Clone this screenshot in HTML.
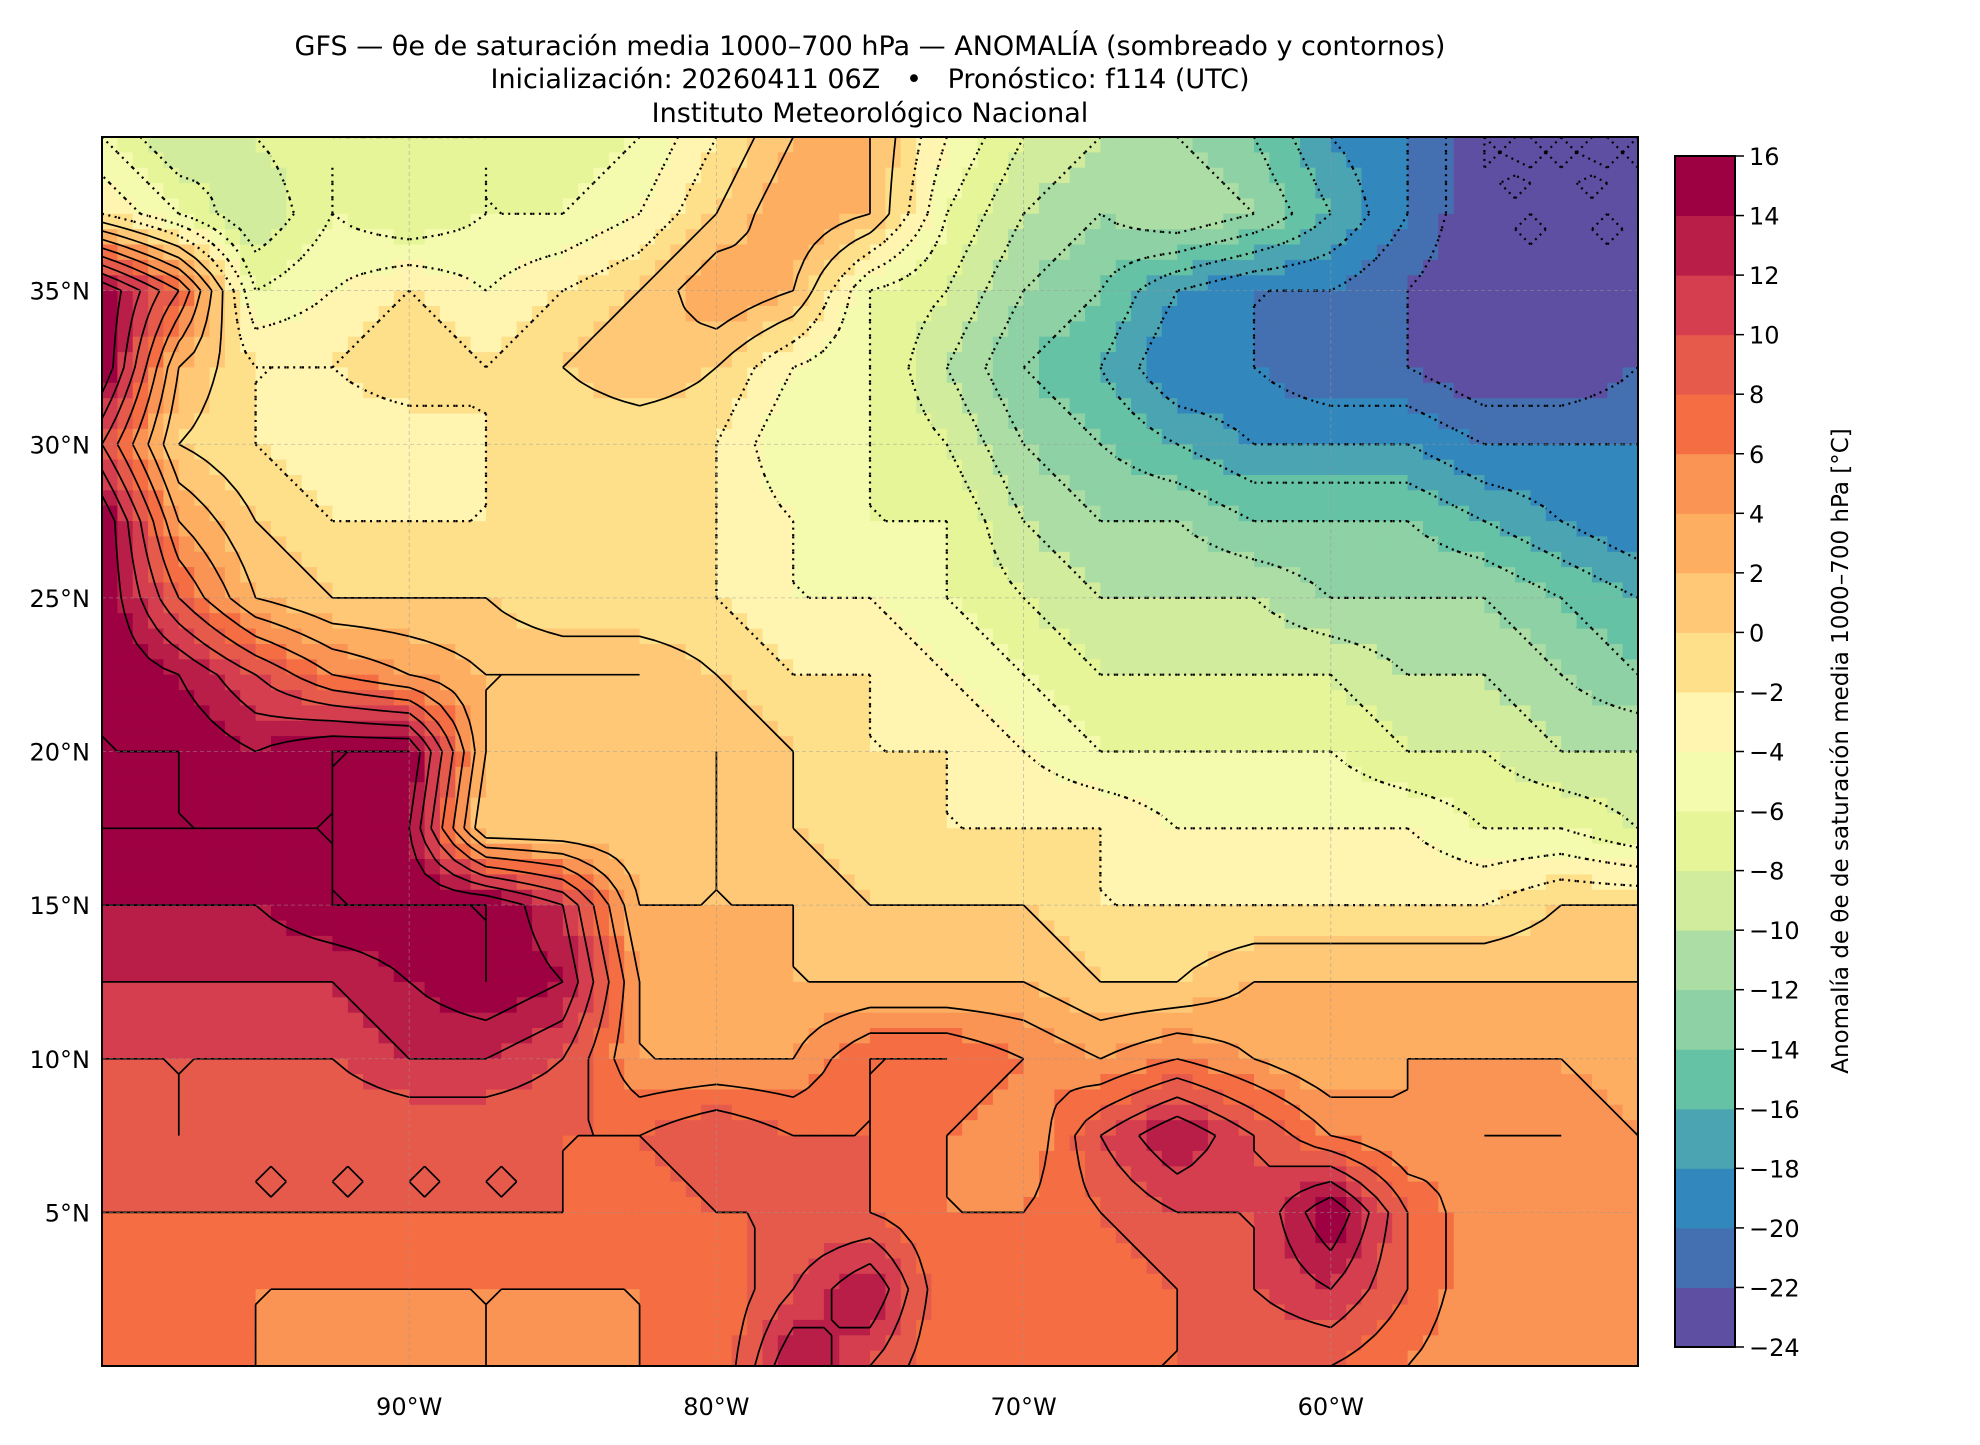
<!DOCTYPE html>
<html><head><meta charset="utf-8">
<style>
body{margin:0;background:#fff;width:1980px;height:1440px;overflow:hidden;font-family:"Liberation Sans","DejaVu Sans",sans-serif;}
svg text{font-family:"DejaVu Sans","Liberation Sans",sans-serif;}
</style></head>
<body>
<svg id="chart" width="1980" height="1440" viewBox="0 0 1980 1440" xmlns="http://www.w3.org/2000/svg">
<g font-size="27" text-anchor="middle" fill="#000">
<text x="870" y="55">GFS — θe de saturación media 1000–700 hPa — ANOMALÍA (sombreado y contornos)</text>
<text x="870" y="88">Inicialización: 20260411 06Z &#160;&#160;•&#160;&#160; Pronóstico: f114 (UTC)</text>
<text x="870" y="122">Instituto Meteorológico Nacional</text>
</g>
<defs><clipPath id="mapclip"><rect x="102" y="137" width="1536" height="1229"/></clipPath></defs>
<g id="field" clip-path="url(#mapclip)"></g>
<g id="contours" clip-path="url(#mapclip)"></g>
<g id="grid"></g>
<rect x="102" y="137" width="1536" height="1229" fill="none" stroke="#000" stroke-width="2"/>
<g id="axes" font-size="24"></g>
<g id="cbar"></g>
<text x="1848" y="751" font-size="23" text-anchor="middle" transform="rotate(-90 1848 751)">Anomalía de θe de saturación media 1000–700 hPa [°C]</text>
</svg>
<script>
// grid longitudes -100..-50 step 2.5, latitudes 40..0 step 2.5
const lons = [-100,-97.5,-95,-92.5,-90,-87.5,-85,-82.5,-80,-77.5,-75,-72.5,-70,-67.5,-65,-62.5,-60,-57.5,-55,-52.5,-50];
const lats = [40,37.5,35,32.5,30,27.5,25,22.5,20,17.5,15,12.5,10,7.5,5,2.5,0];
const r40  = [-6,-10,-8,-6,-6,-6,-8,-6,-2,2,2,-4,-8,-10,-12,-14,-18,-20,-24,-24,-24];
const r375 = [-2,-6,-10,-6,-8,-6,-6,-4,0,4,2,-6,-10,-12,-10,-12,-16,-20,-24,-24,-24];
const r35  = [16,8,-6,-4,-2,-4,-2,0,4,2,-6,-8,-12,-14,-18,-20,-20,-22,-24,-24,-24];
const r325 = [16,2,-2,-2,0,-2,0,2,0,-4,-6,-10,-14,-16,-20,-20,-22,-22,-24,-24,-22];
const r30  = [10,0,-2,-4,-4,-2,-2,-2,-2,-6,-6,-8,-12,-14,-16,-18,-18,-18,-20,-20,-20];
const r275 = [16,4,0,-2,-2,-2,-2,-2,-2,-4,-6,-6,-10,-12,-12,-14,-14,-14,-16,-18,-20];
const r25  = [16,8,2,0,0,0,-2,-2,-2,-4,-4,-6,-8,-10,-10,-10,-12,-12,-12,-14,-16];
const r225 = [16,14,10,6,4,2,2,2,0,-2,-2,-4,-6,-8,-8,-8,-8,-10,-10,-12,-14];
const r20  = [16,16,14,16,16,2,0,0,2,0,-2,-2,-4,-6,-6,-6,-6,-8,-8,-10,-10];
const r175 = [16,16,16,16,14,0,0,0,2,0,-2,-2,-2,-2,-4,-4,-4,-4,-6,-6,-8];
const r15  = [14,14,14,16,16,16,12,2,2,2,0,0,0,-2,-2,-2,-2,-2,-2,0,0];
const r125 = [12,12,12,12,14,16,14,4,2,2,2,2,2,0,0,2,2,2,2,2,2];
const r10  = [10,10,10,10,12,12,10,4,4,4,8,8,6,4,6,4,2,4,4,4,2];
const r75  = [8,10,8,8,8,8,8,8,10,8,8,6,4,10,14,10,6,4,6,6,4];
const r5   = [8,8,8,8,8,8,8,6,8,8,8,6,6,8,10,10,16,8,4,4,4];
const r25s = [6,6,6,6,6,6,6,6,6,10,14,6,6,6,8,10,12,8,4,4,6];
const r0   = [6,6,6,4,4,6,4,6,6,14,10,6,8,8,8,8,8,6,4,4,6];
const rows = [r40,r375,r35,r325,r30,r275,r25,r225,r20,r175,r15,r125,r10,r75,r5,r25s,r0];
const levels = [-24,-22,-20,-18,-16,-14,-12,-10,-8,-6,-4,-2,0,2,4,6,8,10,12,14,16];
const cbTicks = [16,14,12,10,8,6,4,2,0,-2,-4,-6,-8,-10,-12,-14,-16,-18,-20,-22,-24];
const lonTicks = [-90,-80,-70,-60];
const latTicks = [35,30,25,20,15,10,5];
const colors = ["#5e4fa2","#4470b1","#3288bd","#4ba4b1","#66c2a5","#8dd1a4","#abdda4","#d0ec9c","#e6f598","#f4faae","#fff5b0","#fee08b","#fec877","#fdae61","#f99455","#f46d43","#e65a4b","#d53e4f","#b91e48","#9e0142"];

const NS="http://www.w3.org/2000/svg";
const X0=102,X1=1638,Y0=137,Y1=1366;
const xs = lon => X0+(lon+100)/50*(X1-X0);
const ys = lat => Y0+(40-lat)/40*(Y1-Y0);
function val(lon,lat){
  let fi=(lon+100)/2.5, fj=(40-lat)/2.5;
  fi=Math.max(0,Math.min(20,fi)); fj=Math.max(0,Math.min(16,fj));
  const i=Math.min(19,Math.floor(fi)), j=Math.min(15,Math.floor(fj));
  const a=fi-i,b=fj-j;
  return rows[j][i]*(1-a)*(1-b)+rows[j][i+1]*a*(1-b)+rows[j+1][i]*(1-a)*b+rows[j+1][i+1]*a*b;
}
function colorOf(v){
  let k=Math.floor((v+24)/2); k=Math.max(0,Math.min(19,k)); return colors[k];
}
const field=document.getElementById('field');
const step=0.5;
const nx=Math.round(50/step), ny=Math.round(40/step);
for(let j=0;j<ny;j++){
  for(let i=0;i<nx;i++){
    const lon=-100+(i+0.5)*step, lat=40-(j+0.5)*step;
    const r=document.createElementNS(NS,'rect');
    const x=xs(lon-step/2), y=ys(lat+step/2);
    r.setAttribute('x',x.toFixed(1)); r.setAttribute('y',y.toFixed(1));
    r.setAttribute('width',(xs(lon+step/2)-x+0.6).toFixed(1));
    r.setAttribute('height',(ys(lat-step/2)-y+0.6).toFixed(1));
    r.setAttribute('fill',colorOf(val(lon,lat)));
    
    
    field.appendChild(r);
  }
}
// marching squares contours
const cg=document.getElementById('contours');
const N=[];
for(let j=0;j<=ny;j++){N.push([]);for(let i=0;i<=nx;i++){N[j].push(val(-100+i*step,40-j*step));}}
levels.forEach(L=>{
  let d='';
  for(let j=0;j<ny;j++)for(let i=0;i<nx;i++){
    const v=[N[j][i],N[j][i+1],N[j+1][i+1],N[j+1][i]];
    const p=[[i,j],[i+1,j],[i+1,j+1],[i,j+1]];
    const pts=[];
    for(let e=0;e<4;e++){
      const a=v[e],b=v[(e+1)%4];
      if((a<L)!==(b<L)){
        const t=(L-a)/(b-a);
        const px=p[e][0]+(p[(e+1)%4][0]-p[e][0])*t, py=p[e][1]+(p[(e+1)%4][1]-p[e][1])*t;
        pts.push([xs(-100+px*step),ys(40-py*step)]);
      }
    }
    for(let k=0;k+1<pts.length;k+=2)d+=`M${pts[k][0].toFixed(1)} ${pts[k][1].toFixed(1)}L${pts[k+1][0].toFixed(1)} ${pts[k+1][1].toFixed(1)}`;
  }
  if(d){
    const path=document.createElementNS(NS,'path');
    path.setAttribute('d',d);path.setAttribute('fill','none');path.setAttribute('stroke','#000');
    path.setAttribute('stroke-width',L<0?'2.2':'1.7');
    if(L<0)path.setAttribute('stroke-dasharray','2 4.5');
    
    
    cg.appendChild(path);
  }
});
// gridlines and tick labels
const grid=document.getElementById('grid'), axes=document.getElementById('axes');
lonTicks.forEach(lo=>{
  const l=document.createElementNS(NS,'line');
  l.setAttribute('x1',xs(lo));l.setAttribute('x2',xs(lo));l.setAttribute('y1',Y0);l.setAttribute('y2',Y1);
  l.setAttribute('stroke','#999');l.setAttribute('stroke-width','0.8');l.setAttribute('stroke-dasharray','4 3');l.setAttribute('opacity','0.6');
  
  
  grid.appendChild(l);
  const t=document.createElementNS(NS,'text');
  t.setAttribute('x',xs(lo));t.setAttribute('y',1415);t.setAttribute('text-anchor','middle');
  t.textContent=Math.abs(lo)+'°W';
  
  
  axes.appendChild(t);
});
latTicks.forEach(la=>{
  const l=document.createElementNS(NS,'line');
  l.setAttribute('y1',ys(la));l.setAttribute('y2',ys(la));l.setAttribute('x1',X0);l.setAttribute('x2',X1);
  l.setAttribute('stroke','#999');l.setAttribute('stroke-width','0.8');l.setAttribute('stroke-dasharray','4 3');l.setAttribute('opacity','0.6');
  
  
  grid.appendChild(l);
  const t=document.createElementNS(NS,'text');
  t.setAttribute('x',90);t.setAttribute('y',ys(la)+9);t.setAttribute('text-anchor','end');
  t.textContent=la+'°N';
  
  
  axes.appendChild(t);
});
// colorbar
const cb=document.getElementById('cbar');
const CX=1675,CW=60,CT=156,CB=1347;
const cy=v=>CT+(16-v)/40*(CB-CT);
for(let k=0;k<20;k++){
  const lo=levels[k],hi=levels[k+1];
  const r=document.createElementNS(NS,'rect');
  r.setAttribute('x',CX);r.setAttribute('y',cy(hi));r.setAttribute('width',CW);r.setAttribute('height',cy(lo)-cy(hi)+0.5);
  r.setAttribute('fill',colors[k]);
  
  
  cb.appendChild(r);
}
const fr=document.createElementNS(NS,'rect');
fr.setAttribute('x',CX);fr.setAttribute('y',CT);fr.setAttribute('width',CW);fr.setAttribute('height',CB-CT);
fr.setAttribute('fill','none');fr.setAttribute('stroke','#000');fr.setAttribute('stroke-width','2');


cb.appendChild(fr);
cbTicks.forEach(v=>{
  const l=document.createElementNS(NS,'line');
  l.setAttribute('x1',CX+CW);l.setAttribute('x2',CX+CW+9);l.setAttribute('y1',cy(v));l.setAttribute('y2',cy(v));
  l.setAttribute('stroke','#000');l.setAttribute('stroke-width','1.5');
  
  
  cb.appendChild(l);
  const t=document.createElementNS(NS,'text');
  t.setAttribute('x',CX+CW+14);t.setAttribute('y',cy(v)+9);t.setAttribute('font-size','24');
  t.textContent=(v<0?'−':'')+Math.abs(v);
  
  
  cb.appendChild(t);
});
</script>
</body></html>
